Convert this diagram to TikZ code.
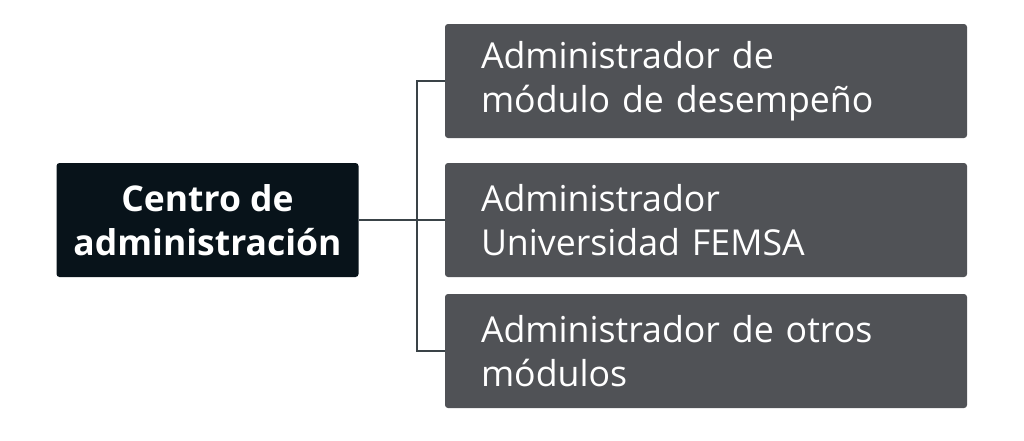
\documentclass[tikz,border=0pt]{standalone}
\usepackage{fontspec}
\setmainfont{Open Sans}
\definecolor{darkbox}{HTML}{08131A}
\definecolor{graybox}{HTML}{505256}
\definecolor{linec}{HTML}{3A4347}
\begin{document}
\begin{tikzpicture}[x=1pt,y=-1pt,
  mainbox/.style={fill=darkbox,rounded corners=3pt,text=white,font=\bfseries\fontsize{35.5}{44}\selectfont,align=center,inner sep=0pt},
  subbox/.style={fill=graybox,rounded corners=3pt,text=white,font=\fontsize{35.7}{44}\selectfont,align=left,inner sep=0pt,minimum width=522pt,minimum height=114pt,text width=450pt},
  conn/.style={draw=linec,line width=1.2pt}]
\useasboundingbox (0,0) rectangle (1024,440);
\node[mainbox,minimum width=302pt,minimum height=114pt] (c) at (207.5,220) {Centro de\\administración};
\node[subbox] (a) at (706,81) {Administrador de\\módulo de desempeño};
\node[subbox] (b) at (706,220) {Administrador\\Universidad FEMSA};
\node[subbox] (d) at (706,351) {Administrador de otros\\módulos};
\coordinate (j) at (417,220);
\draw[conn] (c.east) -- (a.west |- c.east);
\draw[conn] (a.west) -| (j |- d.west) -- (d.west);
\end{tikzpicture}
\end{document}
